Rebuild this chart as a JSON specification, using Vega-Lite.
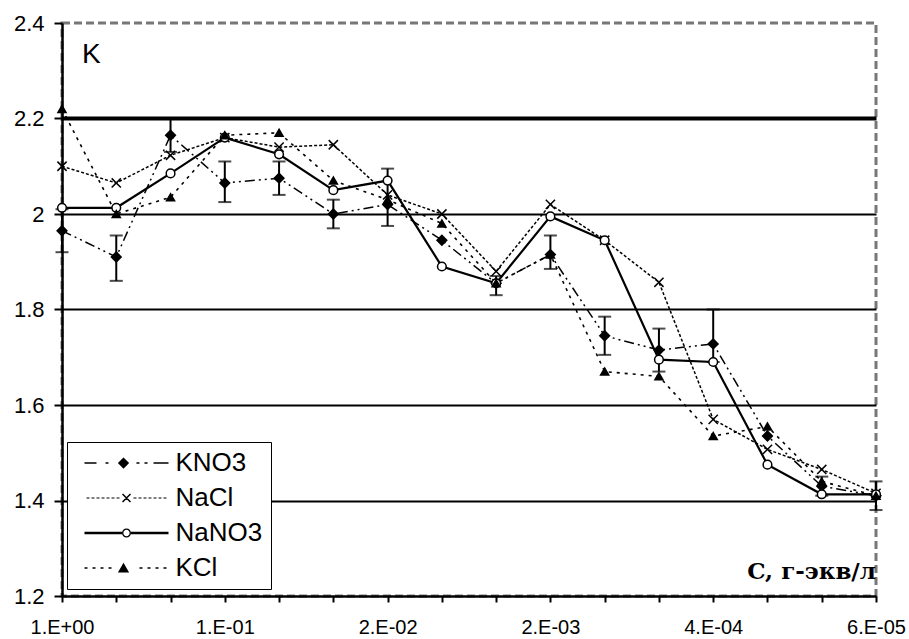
{
  "$schema": "https://vega.github.io/schema/vega-lite/v6.json",
  "width": 814,
  "height": 573,
  "autosize": {"type": "none"},
  "padding": {"left": 62, "top": 23, "right": 33, "bottom": 43},
  "background": "white",
  "datasets": {
    "pts": [
      {"s": "KNO3", "i": 0, "k": 1.965}, {"s": "KNO3", "i": 1, "k": 1.91}, {"s": "KNO3", "i": 2, "k": 2.165}, {"s": "KNO3", "i": 3, "k": 2.065},
      {"s": "KNO3", "i": 4, "k": 2.075}, {"s": "KNO3", "i": 5, "k": 2.0}, {"s": "KNO3", "i": 6, "k": 2.02}, {"s": "KNO3", "i": 7, "k": 1.945},
      {"s": "KNO3", "i": 8, "k": 1.855}, {"s": "KNO3", "i": 9, "k": 1.915}, {"s": "KNO3", "i": 10, "k": 1.745}, {"s": "KNO3", "i": 11, "k": 1.715},
      {"s": "KNO3", "i": 12, "k": 1.728}, {"s": "KNO3", "i": 13, "k": 1.535}, {"s": "KNO3", "i": 14, "k": 1.43}, {"s": "KNO3", "i": 15, "k": 1.41},
      {"s": "NaCl", "i": 0, "k": 2.1}, {"s": "NaCl", "i": 1, "k": 2.065}, {"s": "NaCl", "i": 2, "k": 2.123}, {"s": "NaCl", "i": 3, "k": 2.16},
      {"s": "NaCl", "i": 4, "k": 2.14}, {"s": "NaCl", "i": 5, "k": 2.145}, {"s": "NaCl", "i": 6, "k": 2.04}, {"s": "NaCl", "i": 7, "k": 2.0},
      {"s": "NaCl", "i": 8, "k": 1.88}, {"s": "NaCl", "i": 9, "k": 2.02}, {"s": "NaCl", "i": 10, "k": 1.945}, {"s": "NaCl", "i": 11, "k": 1.857},
      {"s": "NaCl", "i": 12, "k": 1.57}, {"s": "NaCl", "i": 13, "k": 1.507}, {"s": "NaCl", "i": 14, "k": 1.465}, {"s": "NaCl", "i": 15, "k": 1.415},
      {"s": "NaNO3", "i": 0, "k": 2.013}, {"s": "NaNO3", "i": 1, "k": 2.013}, {"s": "NaNO3", "i": 2, "k": 2.085}, {"s": "NaNO3", "i": 3, "k": 2.16},
      {"s": "NaNO3", "i": 4, "k": 2.125}, {"s": "NaNO3", "i": 5, "k": 2.05}, {"s": "NaNO3", "i": 6, "k": 2.07}, {"s": "NaNO3", "i": 7, "k": 1.89},
      {"s": "NaNO3", "i": 8, "k": 1.855}, {"s": "NaNO3", "i": 9, "k": 1.995}, {"s": "NaNO3", "i": 10, "k": 1.945}, {"s": "NaNO3", "i": 11, "k": 1.695},
      {"s": "NaNO3", "i": 12, "k": 1.69}, {"s": "NaNO3", "i": 13, "k": 1.475}, {"s": "NaNO3", "i": 14, "k": 1.413}, {"s": "NaNO3", "i": 15, "k": 1.413},
      {"s": "KCl", "i": 0, "k": 2.22}, {"s": "KCl", "i": 1, "k": 2.0}, {"s": "KCl", "i": 2, "k": 2.035}, {"s": "KCl", "i": 3, "k": 2.165},
      {"s": "KCl", "i": 4, "k": 2.17}, {"s": "KCl", "i": 5, "k": 2.07}, {"s": "KCl", "i": 6, "k": 2.03}, {"s": "KCl", "i": 7, "k": 1.98},
      {"s": "KCl", "i": 8, "k": 1.855}, {"s": "KCl", "i": 9, "k": 1.915}, {"s": "KCl", "i": 10, "k": 1.67}, {"s": "KCl", "i": 11, "k": 1.66},
      {"s": "KCl", "i": 12, "k": 1.535}, {"s": "KCl", "i": 13, "k": 1.555}, {"s": "KCl", "i": 14, "k": 1.44}, {"s": "KCl", "i": 15, "k": 1.41}
    ],
    "err": [
      {"i": 0, "lo": 1.92, "hi": 2.01}, {"i": 1, "lo": 1.86, "hi": 1.955}, {"i": 2, "lo": 2.13, "hi": 2.2},
      {"i": 3, "lo": 2.025, "hi": 2.11}, {"i": 4, "lo": 2.04, "hi": 2.11}, {"i": 5, "lo": 1.97, "hi": 2.03},
      {"i": 6, "lo": 1.975, "hi": 2.095}, {"i": 8, "lo": 1.83, "hi": 1.87}, {"i": 9, "lo": 1.885, "hi": 1.955},
      {"i": 10, "lo": 1.705, "hi": 1.785}, {"i": 11, "lo": 1.67, "hi": 1.76}, {"i": 12, "lo": 1.69, "hi": 1.8},
      {"i": 14, "lo": 1.41, "hi": 1.45}, {"i": 15, "lo": 1.38, "hi": 1.44}
    ]
  },
  "config": {
    "view": {"stroke": "#777777", "strokeDash": [8, 4], "strokeWidth": 3},
    "axis": {"domainColor": "black", "domainWidth": 2.5, "tickColor": "black", "tickWidth": 2, "labelColor": "black", "labelFont": "Liberation Sans"}
  },
  "resolve": {"scale": {"shape": "independent"}},
  "layer": [
    {
      "data": {"name": "pts"},
      "transform": [{"filter": "datum.s=='KNO3'"}],
      "mark": {"type": "line", "color": "black", "strokeDash": [10, 4, 2, 4, 2, 4], "strokeWidth": 1.5},
      "encoding": {
        "x": {
          "field": "i", "type": "quantitative", "title": null,
          "scale": {"domain": [0, 15], "nice": false, "zero": false},
          "axis": {
            "values": [0, 1, 2, 3, 4, 5, 6, 7, 8, 9, 10, 11, 12, 13, 14, 15],
            "labelExpr": "datum.value==0?'1.E+00':datum.value==3?'1.E-01':datum.value==6?'2.E-02':datum.value==9?'2.E-03':datum.value==12?'4.E-04':datum.value==15?'6.E-05':''",
            "grid": false, "tickSize": 6, "labelFontSize": 20, "labelPadding": 15,
            "labelFlush": false, "labelOverlap": false, "labelBound": false
          }
        },
        "y": {
          "field": "k", "type": "quantitative", "title": null,
          "scale": {"domain": [1.2, 2.4], "nice": false, "zero": false},
          "axis": {
            "values": [1.2, 1.4, 1.6, 1.8, 2.0, 2.2, 2.4],
            "labelExpr": "toString(round(datum.value*10)/10)",
            "grid": true, "gridColor": "black",
            "gridWidth": {"condition": {"test": "abs(datum.value-2.2)<0.01", "value": 4}, "value": 2},
            "gridOpacity": {"condition": {"test": "datum.value>2.3 || datum.value<1.3", "value": 0}, "value": 1},
            "tickSize": 8, "labelFontSize": 22, "labelPadding": 10
          }
        }
      }
    },
    {
      "data": {"name": "pts"},
      "transform": [{"filter": "datum.s=='NaCl'"}],
      "mark": {"type": "line", "color": "black", "strokeDash": [3, 2], "strokeWidth": 1.5},
      "encoding": {
        "x": {"field": "i", "type": "quantitative", "title": null},
        "y": {"field": "k", "type": "quantitative", "title": null}
      }
    },
    {
      "data": {"name": "pts"},
      "transform": [{"filter": "datum.s=='NaNO3'"}],
      "mark": {"type": "line", "color": "black", "strokeWidth": 2.2},
      "encoding": {
        "x": {"field": "i", "type": "quantitative", "title": null},
        "y": {"field": "k", "type": "quantitative", "title": null}
      }
    },
    {
      "data": {"name": "pts"},
      "transform": [{"filter": "datum.s=='KCl'"}],
      "mark": {"type": "line", "color": "black", "strokeDash": [3, 5], "strokeWidth": 1.6},
      "encoding": {
        "x": {"field": "i", "type": "quantitative", "title": null},
        "y": {"field": "k", "type": "quantitative", "title": null}
      }
    },
    {
      "data": {"name": "err"},
      "mark": {"type": "errorbar", "color": "black", "ticks": {"size": 13, "thickness": 2, "color": "black"}, "rule": {"strokeWidth": 2, "color": "black"}},
      "encoding": {
        "x": {"field": "i", "type": "quantitative", "title": null},
        "y": {"field": "lo", "type": "quantitative", "title": null},
        "y2": {"field": "hi"}
      }
    },
    {
      "data": {"name": "pts"},
      "mark": {"type": "point", "filled": true, "stroke": "black", "strokeWidth": 1.5, "opacity": 1},
      "encoding": {
        "x": {"field": "i", "type": "quantitative", "title": null},
        "y": {"field": "k", "type": "quantitative", "title": null},
        "fill": {
          "field": "s", "type": "nominal", "legend": null,
          "scale": {"domain": ["KNO3", "NaCl", "NaNO3", "KCl"], "range": ["black", "transparent", "white", "black"]}
        },
        "size": {
          "field": "s", "type": "nominal", "legend": null,
          "scale": {"domain": ["KNO3", "NaCl", "NaNO3", "KCl"], "range": [95, 65, 55, 80]}
        },
        "shape": {
          "field": "s", "type": "nominal", "legend": null,
          "scale": {"domain": ["KNO3", "NaCl", "NaNO3", "KCl"], "range": ["diamond", "M-1,-1L1,1M-1,1L1,-1", "circle", "triangle-up"]}
        }
      }
    },
    {
      "data": {"name": "pts"},
      "mark": {"type": "point", "filled": true, "color": "black", "stroke": "black", "strokeWidth": 1.5, "opacity": 0},
      "encoding": {
        "x": {"field": "i", "type": "quantitative", "title": null},
        "y": {"field": "k", "type": "quantitative", "title": null},
        "shape": {
          "field": "s", "type": "nominal",
          "scale": {
            "domain": ["KNO3", "NaCl", "NaNO3", "KCl"],
            "range": [
              "M-5.6,-0.1H-4V0.1H-5.6ZM-2.8,-0.1H-2.4V0.1H-2.8ZM-0.4,-0.75L0.35,0L-0.4,0.75L-1.15,0ZM1.33,-0.1H1.73V0.1H1.33ZM2.4,-0.1H2.8V0.1H2.4ZM3.6,-0.1H5.6V0.1H3.6Z",
              "M-5.33,-0.08H-4.93V0.08H-5.33ZM-4.67,-0.08H-4.27V0.08H-4.67ZM-4,-0.08H-3.6V0.08H-4ZM-3.33,-0.08H-2.93V0.08H-3.33ZM-2.67,-0.08H-2.27V0.08H-2.67ZM-2,-0.08H-1.6V0.08H-2ZM-1.33,-0.08H-0.93V0.08H-1.33ZM-0.6,-0.46L-0.46,-0.6L0.6,0.46L0.46,0.6ZM-0.6,0.46L0.46,-0.6L0.6,-0.46L-0.46,0.6ZM0.93,-0.08H1.33V0.08H0.93ZM1.6,-0.08H2V0.08H1.6ZM2.27,-0.08H2.67V0.08H2.27ZM2.93,-0.08H3.33V0.08H2.93ZM3.6,-0.08H4V0.08H3.6ZM4.27,-0.08H4.67V0.08H4.27ZM4.93,-0.08H5.33V0.08H4.93Z",
              "M-5.6,-0.17H-0.6V0.17H-5.6ZM0.6,-0.17H5.6V0.17H0.6ZM-0.6,0A0.6,0.6 0 1,0 0.6,0A0.6,0.6 0 1,0 -0.6,0ZM-0.42,0A0.42,0.42 0 1,1 0.42,0A0.42,0.42 0 1,1 -0.42,0Z",
              "M-5.6,-0.1H-5.2V0.1H-5.6ZM-4.53,-0.1H-4.13V0.1H-4.53ZM-3.47,-0.1H-3.07V0.1H-3.47ZM-2.4,-0.1H-2V0.1H-2.4ZM-0.4,-0.7L0.35,0.6L-1.15,0.6ZM1.73,-0.1H2.13V0.1H1.73ZM2.8,-0.1H3.2V0.1H2.8ZM3.87,-0.1H4.27V0.1H3.87ZM4.93,-0.1H5.33V0.1H4.93Z"
            ]
          },
          "legend": {
            "title": null, "orient": "none", "legendX": 5, "legendY": 419,
            "strokeColor": "black", "fillColor": "white", "padding": 8, "rowPadding": 9,
            "symbolSize": 225, "symbolOffset": 38.5, "labelOffset": 36,
            "labelFont": "Liberation Sans", "labelFontSize": 26, "labelColor": "black",
            "symbolStrokeColor": "black", "symbolFillColor": "black", "symbolStrokeWidth": 1.5
          }
        }
      }
    },
    {
      "data": {"values": [{}]},
      "mark": {"type": "text", "font": "Liberation Sans", "fontSize": 28, "align": "left", "baseline": "alphabetic", "color": "black"},
      "encoding": {
        "x": {"datum": 0.37, "type": "quantitative"},
        "y": {"datum": 2.316, "type": "quantitative"},
        "text": {"value": "K"}
      }
    },
    {
      "data": {"values": [{}]},
      "mark": {"type": "text", "font": "DejaVu Serif", "fontWeight": "bold", "fontSize": 23, "align": "right", "baseline": "alphabetic", "color": "black"},
      "encoding": {
        "x": {"datum": 15, "type": "quantitative"},
        "y": {"datum": 1.235, "type": "quantitative"},
        "text": {"value": "C, г-экв/л"}
      }
    }
  ]
}
